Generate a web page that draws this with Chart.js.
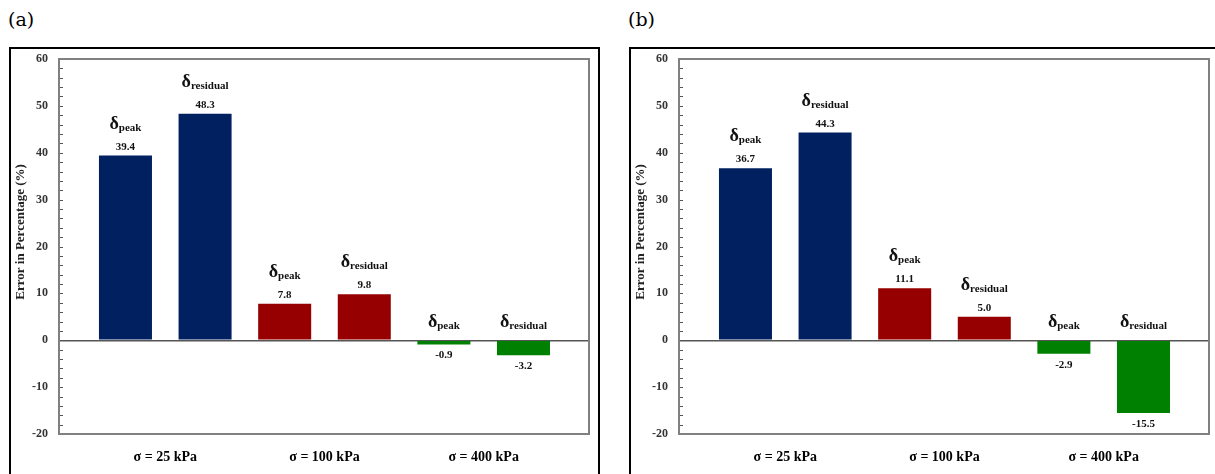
<!DOCTYPE html>
<html>
<head>
<meta charset="utf-8">
<script src="https://cdn.jsdelivr.net/npm/chart.js@4.4.1/dist/chart.umd.min.js"></script>
<style>
  html, body { margin: 0; padding: 0; background: #fff; width: 1215px; height: 474px; overflow: hidden; position: relative; }
  .box { position: absolute; top: 47px; height: 440px; border: 2px solid #000; box-sizing: border-box; }
  #boxA { left: 9px; width: 591px; }
  #boxB { left: 629px; width: 600px; }
  .tag { position: absolute; top: 8px; font-family: "DejaVu Serif", serif; font-size: 19px; color: #000; }
  canvas { position: absolute; }
</style>
</head>
<body>
<div class="tag" style="left:8px">(a)</div>
<div class="tag" style="left:628px">(b)</div>
<div class="box" id="boxA"></div>
<div class="box" id="boxB"></div>
<canvas id="chartA" width="586" height="424" style="left:11px;top:50px"></canvas>
<canvas id="chartB" width="586" height="424" style="left:631px;top:50px"></canvas>
<script>
// ---- data ----
const groupLabels = ['σ = 25 kPa', 'σ = 100 kPa', 'σ = 400 kPa'];
const barSlots = [1, 2, 3, 4, 5, 6];
const barKinds = ['peak', 'residual', 'peak', 'residual', 'peak', 'residual'];
const errorA = [39.4, 48.3, 7.8, 9.8, -0.9, -3.2];
const errorB = [36.7, 44.3, 11.1, 5.0, -2.9, -15.5];
const barColors = ['#002060', '#002060', '#960000', '#960000', '#008000', '#008000'];
const yMin = -20, yMax = 60, yStep = 10, yMinorStep = 2;
const yTitle = 'Error in Percentage (%)';

const SERIF = '"Liberation Serif", "Times New Roman", serif';
const groupCenters = groupLabels.map((_, g) => (barSlots[2 * g] + barSlots[2 * g + 1]) / 2);

const decorPlugin = {
  id: 'decor',
  afterDatasetsDraw(chart) {
    const ctx = chart.ctx;
    const ys = chart.scales.y;
    const zero = ys.getPixelForValue(0);
    const meta = chart.getDatasetMeta(0);
    const vals = chart.data.datasets[0].data;
    ctx.save();
    ctx.fillStyle = '#111';
    meta.data.forEach((bar, i) => {
      const v = vals[i].y;
      const x = bar.x;
      let valBase, deltaBase;
      if (v >= 0) { valBase = bar.y - 6; deltaBase = bar.y - 27; }
      else { valBase = bar.y + 14; deltaBase = zero - 13.5; }
      ctx.textAlign = 'center';
      ctx.textBaseline = 'alphabetic';
      ctx.font = 'bold 11px ' + SERIF;
      ctx.fillText(v.toFixed(1), x, valBase);
      ctx.font = 'bold 18px ' + SERIF;
      const dW = ctx.measureText('δ').width;
      ctx.font = 'bold 11px ' + SERIF;
      const sW = ctx.measureText(barKinds[i]).width;
      const start = x - (dW + sW) / 2;
      ctx.textAlign = 'left';
      ctx.font = 'bold 18px ' + SERIF;
      ctx.fillText('δ', start, deltaBase);
      ctx.font = 'bold 11px ' + SERIF;
      ctx.fillText(barKinds[i], start + dW, deltaBase + 2);
    });
    ctx.restore();
  },
  afterDraw(chart) {
    const ctx = chart.ctx;
    const a = chart.chartArea;
    const ys = chart.scales.y;
    ctx.save();
    ctx.strokeStyle = '#555';
    ctx.lineWidth = 1;
    for (let v = yMin; v <= yMax; v += yMinorStep) {
      const py = Math.round(ys.getPixelForValue(v)) + 0.5;
      ctx.beginPath();
      ctx.moveTo(a.left, py);
      ctx.lineTo(a.left + 4, py);
      ctx.stroke();
    }
    ctx.strokeStyle = '#808080';
    ctx.lineWidth = 2;
    ctx.strokeRect(a.left, a.top, a.right - a.left, a.bottom - a.top);
    ctx.restore();
  }
};

function makeChart(id, values) {
  const points = barSlots.map((s, i) => ({ x: s, y: values[i] }));
  return new Chart(document.getElementById(id), {
    type: 'bar',
    data: {
      datasets: [{
        data: points,
        backgroundColor: barColors,
        borderWidth: 0,
        categoryPercentage: 1,
        barPercentage: 0.666
      }]
    },
    options: {
      responsive: false,
      animation: false,
      devicePixelRatio: 1,
      layout: { padding: { top: 9, right: 8, left: 0, bottom: 0 } },
      plugins: { legend: { display: false }, tooltip: { enabled: false } },
      scales: {
        x: {
          type: 'linear',
          offset: false,
          min: 0.165,
          max: 6.823,
          grid: { display: false, drawTicks: false },
          border: { display: false },
          afterBuildTicks: (scale) => { scale.ticks = groupCenters.map(v => ({ value: v })); },
          afterFit: (scale) => { scale.height = 40; scale.paddingLeft = 0; scale.paddingRight = 0; },
          ticks: {
            autoSkip: false,
            maxRotation: 0,
            padding: 15,
            color: '#000',
            font: { family: SERIF, size: 14, weight: 'bold' },
            callback: (value, index) => groupLabels[index]
          }
        },
        y: {
          min: yMin,
          max: yMax,
          afterFit: (scale) => { scale.width = 48; scale.paddingTop = 0; scale.paddingBottom = 0; },
          grid: {
            drawTicks: false,
            color: (c) => (c.tick && c.tick.value === 0) ? '#555' : 'rgba(0,0,0,0)',
            lineWidth: 1.5
          },
          border: { display: false },
          ticks: {
            stepSize: yStep,
            padding: 11,
            color: '#333',
            font: { family: SERIF, size: 12, weight: 'bold' }
          },
          title: {
            display: true,
            text: '         ' + yTitle,
            color: '#222',
            padding: { top: 2, bottom: 0 },
            font: { family: SERIF, size: 13, weight: 'bold' }
          }
        }
      }
    },
    plugins: [decorPlugin]
  });
}

makeChart('chartA', errorA);
makeChart('chartB', errorB);
</script>
</body>
</html>
